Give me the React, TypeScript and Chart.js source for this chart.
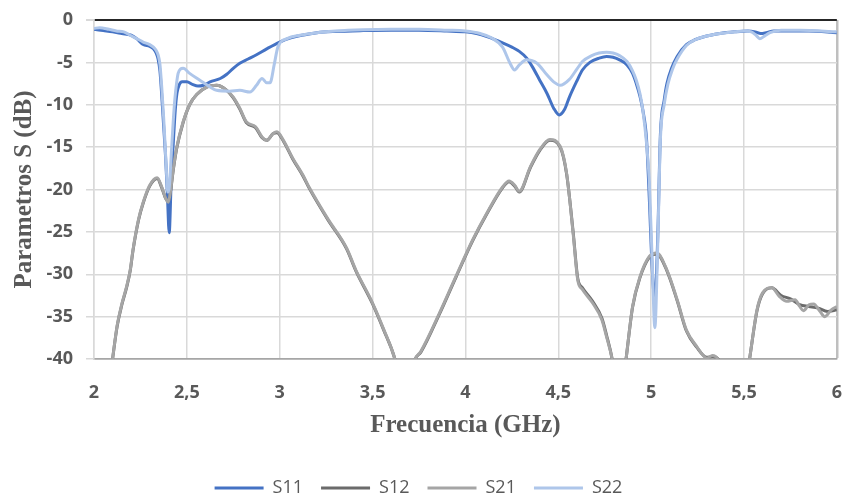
import React, { useEffect, useRef } from "react";
import { Chart, registerables } from "chart.js";

Chart.register(...registerables);

// ---- Data (frequency in GHz, magnitude in dB) ----
const seriesNames = ["S11", "S12", "S21", "S22"];
const seriesColors = ["#4472C4", "#6b6b6b", "#a5a5a5", "#aec6ea"];

const s11Freq = [2.00,2.05,2.10,2.15,2.20,2.23,2.265,2.30,2.32,2.335,2.345,2.355,2.365,2.375,2.385,2.395,2.405,2.415,2.427,2.437,2.447,2.46,2.475,2.50,2.53,2.56,2.59,2.625,2.68,2.715,2.75,2.785,2.83,2.875,2.93,3.00,3.06,3.12,3.20,3.30,3.45,3.60,3.75,3.90,4.00,4.06,4.12,4.20,4.25,4.29,4.33,4.36,4.40,4.44,4.475,4.505,4.535,4.56,4.60,4.63,4.67,4.72,4.76,4.795,4.83,4.87,4.90,4.92,4.94,4.955,4.975,4.99,5.005,5.02,5.035,5.05,5.07,5.085,5.11,5.14,5.19,5.24,5.28,5.37,5.45,5.52,5.56,5.59,5.62,5.66,5.73,5.85,6.00];
const s11Values = [-1.1,-1.25,-1.4,-1.6,-1.8,-2.2,-2.9,-3.1,-3.4,-3.9,-4.6,-6.0,-9.0,-12.5,-16.0,-20.5,-25.1,-19.5,-14.5,-10.8,-8.6,-7.6,-7.3,-7.3,-7.6,-7.8,-7.7,-7.3,-6.9,-6.4,-5.7,-5.1,-4.6,-4.1,-3.4,-2.6,-2.1,-1.8,-1.5,-1.35,-1.25,-1.2,-1.2,-1.3,-1.4,-1.6,-2.0,-2.7,-3.2,-3.7,-4.5,-5.5,-7.1,-8.7,-10.4,-11.2,-10.5,-9.1,-7.2,-5.9,-5.0,-4.5,-4.3,-4.4,-4.7,-5.3,-6.3,-7.5,-9.0,-10.6,-14.0,-21.0,-29.0,-33.0,-26.0,-13.4,-9.5,-7.5,-5.7,-4.3,-2.9,-2.3,-2.0,-1.6,-1.4,-1.3,-1.4,-1.6,-1.5,-1.3,-1.3,-1.3,-1.5];

const s12Freq = [2.03,2.10,2.125,2.15,2.175,2.195,2.21,2.24,2.265,2.30,2.34,2.365,2.385,2.40,2.413,2.425,2.445,2.48,2.515,2.553,2.61,2.66,2.715,2.75,2.785,2.82,2.87,2.905,2.93,2.965,2.985,3.02,3.07,3.125,3.16,3.26,3.36,3.41,3.50,3.56,3.62,3.67,3.73,3.76,3.86,3.95,4.04,4.115,4.20,4.235,4.265,4.29,4.35,4.40,4.455,4.51,4.545,4.58,4.605,4.63,4.685,4.735,4.76,4.79,4.83,4.865,4.90,4.94,4.99,5.03,5.085,5.14,5.19,5.245,5.30,5.33,5.36,5.40,5.46,5.53,5.57,5.60,5.65,5.70,5.75,5.80,5.85,5.90,5.95,6.00];
const s12Values = [-52,-40,-36.1,-33.6,-31.6,-29.6,-27.2,-23.6,-21.6,-19.6,-18.7,-19.8,-21.0,-21.4,-20.1,-18.0,-15.2,-12.1,-10.0,-8.8,-7.9,-7.7,-8.3,-9.2,-10.5,-12.1,-12.7,-13.9,-14.2,-13.4,-13.3,-14.3,-16.4,-18.4,-19.9,-23.6,-27.0,-29.6,-33.5,-36.6,-40,-45,-40,-39.2,-34.7,-30.3,-26.0,-22.9,-19.8,-19.1,-19.6,-20.3,-17.4,-15.4,-14.2,-15.0,-18.2,-25.0,-30.5,-31.6,-33.2,-35.2,-37.2,-40,-46,-40,-33.9,-30.4,-28.0,-27.6,-29.6,-33.1,-36.7,-38.6,-39.8,-39.7,-40.0,-43,-50,-40,-34.3,-32.3,-31.6,-32.5,-32.9,-33.6,-33.8,-34.0,-34.4,-34.2];

const s21Freq = [2.03,2.10,2.125,2.15,2.175,2.195,2.21,2.24,2.265,2.30,2.34,2.365,2.385,2.40,2.413,2.425,2.445,2.48,2.515,2.553,2.61,2.66,2.715,2.75,2.785,2.82,2.87,2.905,2.93,2.965,2.985,3.02,3.07,3.125,3.16,3.26,3.36,3.41,3.50,3.56,3.62,3.67,3.73,3.76,3.86,3.95,4.04,4.115,4.20,4.235,4.265,4.29,4.35,4.40,4.455,4.51,4.545,4.58,4.605,4.63,4.685,4.735,4.76,4.79,4.83,4.865,4.90,4.94,4.99,5.03,5.085,5.14,5.19,5.245,5.30,5.33,5.36,5.40,5.46,5.53,5.57,5.60,5.65,5.69,5.73,5.775,5.80,5.82,5.85,5.875,5.91,5.935,5.97,6.00];
const s21Values = [-52,-40,-36,-33.5,-31.5,-29.5,-27.1,-23.5,-21.5,-19.5,-18.6,-19.7,-21.0,-21.5,-20,-17.9,-15.1,-12.0,-10.0,-8.8,-7.9,-7.7,-8.3,-9.1,-10.4,-12.0,-12.6,-13.8,-14.2,-13.4,-13.2,-14.2,-16.3,-18.3,-19.8,-23.5,-26.9,-29.5,-33.4,-36.5,-40,-45,-40,-39.1,-34.6,-30.2,-25.9,-22.8,-19.7,-19.0,-19.5,-20.2,-17.3,-15.3,-14.1,-14.9,-18.1,-25.2,-30.7,-31.8,-33.4,-35.4,-37.4,-40,-46,-40,-33.8,-30.3,-27.9,-27.5,-29.5,-33.0,-36.6,-38.5,-39.9,-39.6,-40.1,-43,-50,-40,-34.2,-32.2,-31.6,-32.6,-33.2,-33.0,-33.8,-34.3,-33.6,-33.5,-34.4,-35.0,-34.2,-33.8];

const s22Freq = [2.00,2.03,2.08,2.12,2.16,2.195,2.23,2.265,2.30,2.32,2.335,2.345,2.355,2.365,2.375,2.382,2.39,2.397,2.405,2.418,2.428,2.436,2.445,2.453,2.465,2.48,2.515,2.57,2.625,2.66,2.73,2.785,2.84,2.875,2.905,2.93,2.948,2.97,2.99,3.04,3.11,3.20,3.30,3.45,3.60,3.75,3.90,4.00,4.08,4.14,4.20,4.24,4.265,4.29,4.33,4.385,4.44,4.475,4.51,4.56,4.60,4.63,4.68,4.72,4.76,4.795,4.83,4.87,4.90,4.92,4.94,4.955,4.975,4.99,5.005,5.02,5.035,5.05,5.07,5.09,5.115,5.14,5.19,5.24,5.28,5.37,5.45,5.50,5.54,5.565,5.585,5.61,5.64,5.70,5.80,6.00];
const s22Values = [-1.0,-0.9,-1.1,-1.3,-1.4,-1.8,-2.2,-2.6,-2.9,-3.2,-3.6,-4.1,-5.2,-8.0,-11.5,-14.4,-17.8,-20.3,-19.8,-15.1,-11.5,-9.2,-7.4,-6.3,-5.8,-5.7,-6.3,-7.1,-7.9,-8.3,-8.4,-8.3,-8.5,-7.7,-6.9,-7.4,-7.4,-5.3,-3.2,-2.2,-1.8,-1.5,-1.3,-1.15,-1.1,-1.1,-1.2,-1.3,-1.6,-2.1,-3.2,-5.1,-5.9,-5.3,-4.7,-5.1,-6.5,-7.3,-7.7,-7.0,-5.8,-4.9,-4.2,-3.9,-3.8,-3.9,-4.2,-4.9,-6.0,-7.1,-8.7,-10.6,-14.5,-19.0,-28,-36.3,-27,-14.0,-10.0,-7.6,-5.8,-4.6,-3.0,-2.3,-2.0,-1.6,-1.4,-1.3,-1.4,-1.8,-2.2,-1.9,-1.5,-1.2,-1.2,-1.4];

const xMin = 2;
const xMax = 6;
const xStep = 0.5;
const yMin = -40;
const yMax = 0;
const yStep = 5;
const xTitle = "Frecuencia (GHz)";
const yTitle = "Parametros S (dB)";

const TEXT = "#595959";

export default function App() {
  const ref = useRef<HTMLCanvasElement>(null);

  useEffect(() => {
    document.body.style.margin = "0";
    const pts = (f: number[], v: number[]) => f.map((x, i) => ({ x, y: v[i] }));
    const freqs = [s11Freq, s12Freq, s21Freq, s22Freq];
    const vals = [s11Values, s12Values, s21Values, s22Values];
    const datasets = seriesNames.map((name, i) => ({
      label: name,
      data: pts(freqs[i], vals[i]),
      borderColor: seriesColors[i],
      backgroundColor: seriesColors[i],
      borderWidth: 3,
      pointRadius: 0,
      cubicInterpolationMode: "monotone" as const,
      order: seriesNames.length - i,
    }));

    const chart = new Chart(ref.current as HTMLCanvasElement, {
      type: "line",
      data: { datasets },
      options: {
        animation: false,
        responsive: false,
        devicePixelRatio: 1,
        layout: { padding: { top: 20, right: 5, left: 0, bottom: -9 } },
        plugins: {
          tooltip: { enabled: false },
          legend: {
            position: "bottom",
            labels: {
              boxWidth: 49,
              boxHeight: 3,
              padding: 18,
              color: TEXT,
              font: { family: "'Open Sans'", size: 18 },
              sort: (a: any, b: any) => a.datasetIndex - b.datasetIndex,
              generateLabels: (c: any) =>
                Chart.defaults.plugins.legend.labels
                  .generateLabels(c)
                  .map((l: any) => ({ ...l, fillStyle: l.strokeStyle, lineWidth: 0 })),
            },
          },
        },
        scales: {
          x: {
            type: "linear",
            min: xMin,
            max: xMax,
            ticks: {
              stepSize: xStep,
              autoSkip: false,
              maxRotation: 0,
              padding: 0,
              color: TEXT,
              font: { family: "'Open Sans'", size: 18, weight: "bold" },
              callback: (v: any) => String(v).replace(".", ","),
            },
            grid: {
              drawTicks: true,
              tickLength: 23,
              tickColor: "rgba(0,0,0,0)",
              color: (ctx: any) => (ctx.tick && ctx.tick.value === xMax ? "#bfbfbf" : "#d9d9d9"),
              lineWidth: (ctx: any) => (ctx.tick && ctx.tick.value === xMax ? 2.5 : 1.5),
            },
            border: { color: "#a6a6a6", width: 1.5 },
            title: {
              display: true,
              text: xTitle,
              color: TEXT,
              font: { family: "'Liberation Serif'", size: 25, weight: "bold" },
              padding: { top: 0, bottom: 20 },
            },
            afterFit: (s: any) => {
              s.height = 102;
            },
          },
          y: {
            type: "linear",
            min: yMin,
            max: yMax,
            ticks: {
              stepSize: yStep,
              padding: 13,
              color: TEXT,
              font: { family: "'Open Sans'", size: 18, weight: "bold", lineHeight: 0.5 },
            },
            grid: {
              tickLength: 8,
              tickColor: "#d9d9d9",
              color: (ctx: any) => {
                const v = ctx.tick ? ctx.tick.value : null;
                if (v === yMax) return "#262626";
                if (v === yMin) return "#a6a6a6";
                return "#d9d9d9";
              },
              lineWidth: (ctx: any) => (ctx.tick && ctx.tick.value === yMax ? 2 : 1.5),
            },
            border: { color: "#d9d9d9", width: 1.5 },
            title: {
              display: true,
              text: yTitle,
              color: TEXT,
              font: { family: "'Liberation Serif'", size: 25, weight: "bold" },
              padding: { top: 10, bottom: 0 },
            },
            afterFit: (s: any) => {
              s.width = 94;
            },
          },
        },
      } as any,
    });
    return () => chart.destroy();
  }, []);

  return (
    <div style={{ width: 842, height: 498, background: "#fff" }}>
      <canvas ref={ref} width={842} height={498} style={{ display: "block" }} />
    </div>
  );
}
